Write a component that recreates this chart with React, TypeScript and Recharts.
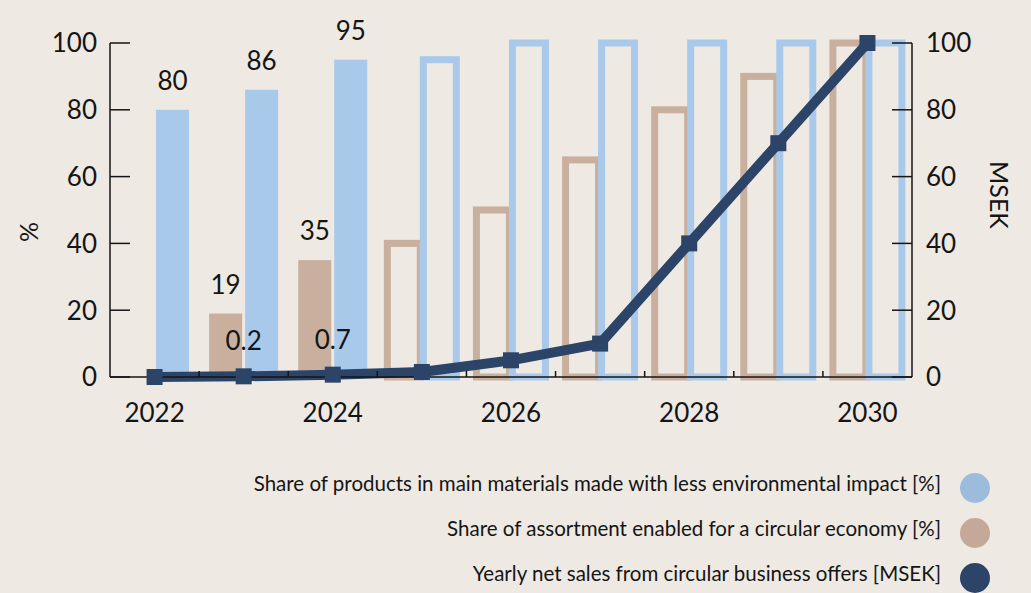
import React from "react";
import {
  ComposedChart,
  Bar,
  Line,
  XAxis,
  YAxis,
  LabelList,
} from "recharts";

// data
const years = ["2022", "2023", "2024", "2025", "2026", "2027", "2028", "2029", "2030"];
const lowerImpactShare = [80, 86, 95, 95, 100, 100, 100, 100, 100];
const circularShare = [null, 19, 35, 40, 50, 65, 80, 90, 100];
const circularSales = [0, 0.2, 0.7, 1.5, 5, 10, 40, 70, 100];
const percentTicks = [0, 20, 40, 60, 80, 100];
const msekTicks = [0, 20, 40, 60, 80, 100];
// first three years are actual values, the rest are targets
const ACTUAL_COUNT = 3;

const legendItems = [
  { label: "Share of products in main materials made with less environmental impact [%]", color: "#9dbcdc" },
  { label: "Share of assortment enabled for a circular economy [%]", color: "#c4a898" },
  { label: "Yearly net sales from circular business offers [MSEK]", color: "#2b4468" },
];

// labels are only printed for actual (non-target) values
const actualOnly = (v: number | null, i: number) => (i < ACTUAL_COUNT ? v : null);

const data = years.map((year, i) => ({
  year,
  lowerImpact: lowerImpactShare[i],
  circular: circularShare[i],
  sales: circularSales[i],
  lowerImpactLabel: actualOnly(lowerImpactShare[i], i),
  circularLabel: actualOnly(circularShare[i], i),
  salesLabel: i > 0 ? actualOnly(circularSales[i], i) : null,
}));

const W = 1031;
const H = 593;
const BG = "#eee9e3";
const BLUE = "#a9c9ea";
const TAN = "#c9b09e";
const NAVY = "#2b4468";
const INK = "#151515";
const FONT = "Lato, 'Open Sans', sans-serif";
const NUM_SIZE = 26;

const MARGIN = { top: 43, right: 59, bottom: 176, left: 50 };
const AXIS_W = 60;
const PLOT_W = W - MARGIN.left - MARGIN.right - 2 * AXIS_W;
const BAND = PLOT_W / years.length;

const makeBarShape = (color: string) => (props: any) => {
  const { x, y, width, height, payload } = props;
  if (!(height > 0) || width == null) return <g />;
  const i = years.indexOf(payload?.year);
  if (i < ACTUAL_COUNT) {
    return <rect x={x} y={y} width={width} height={height} fill={color} />;
  }
  return (
    <rect
      x={x}
      y={y}
      width={width}
      height={height}
      fill="none"
      stroke={color}
      strokeWidth={7}
    />
  );
};

const valueLabel = (gap: number) => (props: any) => {
  const { x, y, width, value } = props;
  if (value == null) return null;
  const cx = width != null ? x + width / 2 : x;
  return (
    <text
      x={cx}
      y={y - gap}
      textAnchor="middle"
      fontSize={NUM_SIZE}
      fontFamily={FONT}
      fill={INK}
    >
      {value}
    </text>
  );
};

const LeftTick = (props: any) => {
  const { x, y, payload } = props;
  const axisX = x + 13;
  return (
    <g>
      <line x1={axisX} x2={axisX + 20} y1={y} y2={y} stroke={INK} strokeWidth={1.5} />
      <text x={x} y={y} dy="0.36em" textAnchor="end" fontSize={NUM_SIZE} fontFamily={FONT} fill={INK}>
        {payload.value}
      </text>
    </g>
  );
};

const RightTick = (props: any) => {
  const { x, y, payload } = props;
  const axisX = x - 14;
  return (
    <g>
      <line x1={axisX - 20} x2={axisX} y1={y} y2={y} stroke={INK} strokeWidth={1.5} />
      <text x={x} y={y} dy="0.36em" textAnchor="start" fontSize={NUM_SIZE} fontFamily={FONT} fill={INK}>
        {payload.value}
      </text>
    </g>
  );
};

const YearTick = (props: any) => {
  const { x, y, payload, index } = props;
  const bx = x + BAND / 2;
  return (
    <g>
      {index < years.length - 1 && (
        <line x1={bx} x2={bx} y1={y} y2={y - 6} stroke={INK} strokeWidth={1.5} />
      )}
      {index % 2 === 0 && (
        <text x={x} y={y + 36} dy="0.36em" textAnchor="middle" fontSize={NUM_SIZE} fontFamily={FONT} fill={INK}>
          {payload.value}
        </text>
      )}
    </g>
  );
};

const SquareDot = (props: any) => {
  const { cx, cy } = props;
  if (cx == null || cy == null) return <g />;
  return <rect x={cx - 8} y={cy - 8} width={16} height={16} fill={NAVY} />;
};

export default function App() {
  return (
    <div
      style={{
        position: "absolute",
        left: 0,
        top: 0,
        width: W,
        height: H,
        background: BG,
        fontFamily: FONT,
        color: INK,
        overflow: "hidden",
      }}
    >
      <ComposedChart
        width={W}
        height={H}
        data={data}
        margin={MARGIN}
        barSize={33}
        barGap={3}
      >
        <XAxis
          dataKey="year"
          interval={0}
          tickSize={0}
          tickMargin={0}
          tick={<YearTick />}
          axisLine={{ stroke: INK, strokeWidth: 1.5 }}
          tickLine={false}
          height={40}
        />
        <YAxis
          yAxisId="pct"
          domain={[0, 100]}
          ticks={percentTicks}
          width={AXIS_W}
          tickSize={0}
          tickMargin={13}
          tick={<LeftTick />}
          tickLine={false}
          axisLine={{ stroke: INK, strokeWidth: 1.5 }}
        />
        <YAxis
          yAxisId="msek"
          orientation="right"
          domain={[0, 100]}
          ticks={msekTicks}
          width={AXIS_W}
          tickSize={0}
          tickMargin={14}
          tick={<RightTick />}
          tickLine={false}
          axisLine={{ stroke: INK, strokeWidth: 1.5 }}
        />
        <Bar
          yAxisId="pct"
          dataKey="circular"
          fill={TAN}
          shape={makeBarShape(TAN)}
          isAnimationActive={false}
        >
          <LabelList dataKey="circularLabel" content={valueLabel(20)} />
        </Bar>
        <Bar
          yAxisId="pct"
          dataKey="lowerImpact"
          fill={BLUE}
          shape={makeBarShape(BLUE)}
          isAnimationActive={false}
        >
          <LabelList dataKey="lowerImpactLabel" content={valueLabel(20)} />
        </Bar>
        <Line
          yAxisId="msek"
          dataKey="sales"
          stroke={NAVY}
          strokeWidth={10}
          strokeLinejoin="round"
          dot={<SquareDot />}
          activeDot={false}
          isAnimationActive={false}
        >
          <LabelList dataKey="salesLabel" content={valueLabel(26)} />
        </Line>
      </ComposedChart>

      <div
        style={{
          position: "absolute",
          left: 28,
          top: 232,
          transform: "translate(-50%, -50%) rotate(-90deg)",
          fontSize: 25,
        }}
      >
        %
      </div>
      <div
        style={{
          position: "absolute",
          left: 1000,
          top: 195,
          transform: "translate(-50%, -50%) rotate(90deg)",
          fontSize: 25,
          whiteSpace: "nowrap",
        }}
      >
        MSEK
      </div>

      {legendItems.map((item, i) => (
        <div key={item.label}>
          <div
            style={{
              position: "absolute",
              right: W - 941,
              top: 483 + i * 45,
              transform: "translateY(-50%)",
              fontSize: 20.5,
              whiteSpace: "nowrap",
            }}
          >
            {item.label}
          </div>
          <div
            style={{
              position: "absolute",
              left: 960,
              top: 488 + i * 45 - 15,
              width: 30,
              height: 30,
              borderRadius: "50%",
              background: item.color,
            }}
          />
        </div>
      ))}
    </div>
  );
}
